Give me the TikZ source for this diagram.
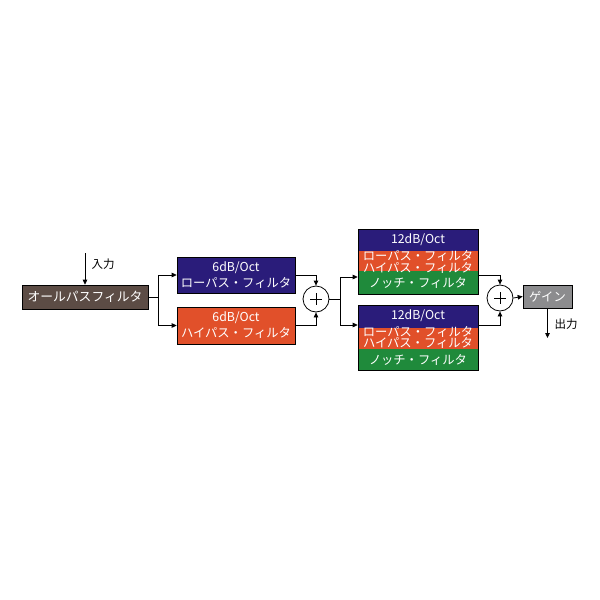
\documentclass[tikz,border=0pt]{standalone}
\usepackage{fontspec}
\setmainfont{Noto Sans CJK JP}
\usetikzlibrary{arrows.meta}
\definecolor{navyc}{HTML}{2A1C7A}
\definecolor{orangec}{HTML}{E1502A}
\definecolor{greenc}{HTML}{1F8A3B}
\definecolor{brownc}{HTML}{5C4C45}
\definecolor{grayc}{HTML}{8C8C8E}
\tikzset{
  box/.style={draw=black, line width=0.6pt, inner sep=0pt, text=white, align=center,
    font=\fontsize{12.3}{16}\selectfont},
  txt/.style={inner sep=0pt, text=white, font=\fontsize{12.3}{12}\selectfont},
  lbl/.style={inner sep=0pt, text=black, font=\fontsize{11.5}{12}\selectfont},
  wire/.style={line width=0.8pt},
  conn/.style={line width=0.8pt, -{Triangle[length=5pt,width=4.5pt]}},
  adder/.style={circle, draw=black, line width=0.8pt, minimum size=26pt, inner sep=0pt, fill=white}
}
\begin{document}
\begin{tikzpicture}[x=1pt,y=-1pt]
\useasboundingbox[fill=white] (0,0) rectangle (600,600);

% all-pass filter
\node[box, fill=brownc, minimum width=126pt, minimum height=24pt, font=\fontsize{12.8}{13}\selectfont] (ap) at (85,297) {オールパスフィルタ};
\coordinate (in) at (85,253);
\draw[conn] (in) -- (ap.north);
\node[lbl] (inl) at (103,264) {入力};

% 6dB filters
\node[box, fill=navyc, minimum width=118pt, minimum height=36pt] (lp1) at (236,275) {6dB/Oct\\ローパス・フィルタ};
\node[box, fill=orangec, minimum width=118pt, minimum height=37pt] (hp1) at (236,325.5) {6dB/Oct\\ハイパス・フィルタ};

\coordinate (s1) at (158,297);
\draw[wire] (ap.east) -- (s1);
\draw[conn] (s1) |- (lp1.west);
\draw[conn] (s1) |- (hp1.west);

% adder 1
\node[adder] (add1) at (316,299) {};
\draw[line width=0.6pt] (add1.center) +(-6,0) -- +(6,0);
\draw[line width=0.6pt] (add1.center) +(0,-6) -- +(0,6);
\draw[conn] (lp1.east) -| (add1.north);
\draw[conn] (hp1.east) -| (add1.south);

% 12dB filters (upper)
\fill[navyc] (358,229) rectangle (478,251);
\fill[orangec] (358,251) rectangle (478,271);
\fill[greenc] (358,271) rectangle (478,294);
\node[box, minimum width=120pt, minimum height=65pt] (u12) at (418,261.5) {};
\node[txt] (u12a) at (418,240) {12dB/Oct};
\node[txt] (u12b) at (418,256) {ローパス・フィルタ};
\node[txt] (u12c) at (418,268) {ハイパス・フィルタ};
\node[txt] (u12d) at (418,283) {ノッチ・フィルタ};

% 12dB filters (lower)
\fill[navyc] (358,305) rectangle (478,328);
\fill[orangec] (358,328) rectangle (478,349);
\fill[greenc] (358,349) rectangle (478,370);
\node[box, minimum width=120pt, minimum height=65pt] (l12) at (418,337.5) {};
\node[txt] (l12a) at (418,316) {12dB/Oct};
\node[txt] (l12b) at (418,332) {ローパス・フィルタ};
\node[txt] (l12c) at (418,343) {ハイパス・フィルタ};
\node[txt] (l12d) at (418,360) {ノッチ・フィルタ};

\coordinate (s2) at (340,299);
\draw[wire] (add1.east) -- (s2);
\draw[conn] (s2) |- ([yshift=-15.5pt]u12.west);
\draw[conn] (s2) |- ([yshift=12.5pt]l12.west);

% adder 2
\node[adder] (add2) at (500,298) {};
\draw[line width=0.6pt] (add2.center) +(-6,0) -- +(6,0);
\draw[line width=0.6pt] (add2.center) +(0,-6) -- +(0,6);
\draw[conn] ([yshift=-13.5pt]u12.east) -| (add2.north);
\draw[conn] ([yshift=12.5pt]l12.east) -| (add2.south);

% gain
\node[box, fill=grayc, minimum width=49pt, minimum height=23pt] (gain) at (547.5,296.5) {ゲイン};
\draw[conn] (add2.east) -- (gain.west);
\coordinate (out) at (547.5,338);
\draw[conn] (gain.south) -- (out);
\node[lbl] (outl) at (566,324) {出力};
\end{tikzpicture}
\end{document}
